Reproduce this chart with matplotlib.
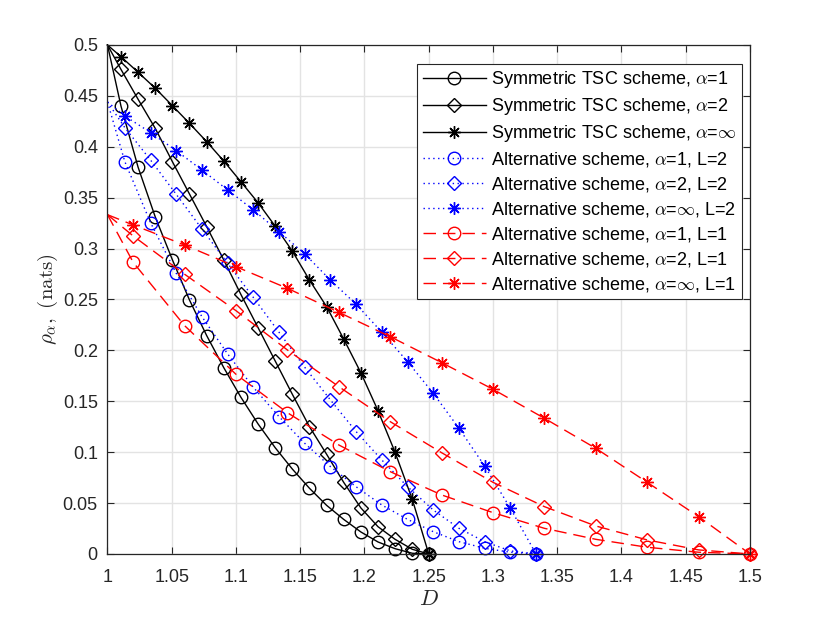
import matplotlib
matplotlib.use("Agg")
import matplotlib.pyplot as plt
from matplotlib.ticker import FixedLocator, FuncFormatter

plt.rcParams['font.family'] = ['Liberation Sans', 'DejaVu Sans']
plt.rcParams['mathtext.fontset'] = 'cm'

# ---- data ----
D_sym = [1.0, 1.0105, 1.0238, 1.0372, 1.0505, 1.0638, 1.0772, 1.0905, 1.1038, 1.1172,
         1.1305, 1.1438, 1.1572, 1.1705, 1.1838, 1.1972, 1.2105, 1.2238, 1.2372, 1.25]
rho_sym_a1 = [0.5, 0.440, 0.380, 0.331, 0.289, 0.2495, 0.2145, 0.183, 0.154, 0.1277,
              0.1044, 0.0835, 0.0645, 0.0478, 0.034, 0.0216, 0.0118, 0.0052, 0.0007, 0.0]
rho_sym_a2 = [0.5, 0.476, 0.4467, 0.418, 0.3854, 0.3536, 0.3215, 0.2888, 0.255, 0.2223,
              0.1896, 0.157, 0.125, 0.098, 0.0704, 0.0452, 0.0268, 0.0144, 0.0046, 0.0]
rho_sym_ainf = [0.5, 0.4885, 0.4732, 0.4575, 0.4404, 0.423, 0.405, 0.386, 0.3657, 0.345,
                0.322, 0.2976, 0.269, 0.243, 0.2112, 0.178, 0.1408, 0.0999, 0.0537, 0.0]

D_L2 = [1.0, 1.0135, 1.0335, 1.0535, 1.0735, 1.0935, 1.1135, 1.1335, 1.1535, 1.1735,
        1.1935, 1.2135, 1.2335, 1.2535, 1.2735, 1.2935, 1.3135, 1.3335]
rho_L2_a1 = [0.444, 0.3854, 0.3255, 0.2757, 0.2331, 0.1965, 0.1637, 0.1349, 0.1087, 0.0858,
             0.066, 0.0481, 0.034, 0.0219, 0.0121, 0.0056, 0.0017, 0.0]
rho_L2_a2 = [0.444, 0.4188, 0.387, 0.3533, 0.3193, 0.2855, 0.252, 0.2178, 0.1834, 0.1513,
             0.1202, 0.0923, 0.0661, 0.0432, 0.0252, 0.0121, 0.003, 0.0]
rho_L2_ainf = [0.444, 0.4302, 0.414, 0.3962, 0.3772, 0.3576, 0.338, 0.3166, 0.2947, 0.269,
               0.2453, 0.2178, 0.1889, 0.1579, 0.1235, 0.0864, 0.0449, 0.0]

D_L1 = [1.0, 1.02, 1.06, 1.10, 1.14, 1.18, 1.22, 1.26, 1.30, 1.34, 1.38, 1.42, 1.46, 1.50]
rho_L1_a1 = [0.3333, 0.2865, 0.2243, 0.1765, 0.1388, 0.1071, 0.0809, 0.058, 0.0406, 0.0252,
             0.0144, 0.0066, 0.0017, 0.0]
rho_L1_a2 = [0.3333, 0.3124, 0.2748, 0.239, 0.2004, 0.1644, 0.13, 0.0995, 0.0704, 0.0465,
             0.0275, 0.0138, 0.004, 0.0]
rho_L1_ainf = [0.3333, 0.3232, 0.3035, 0.2822, 0.261, 0.2374, 0.2135, 0.188, 0.1618, 0.1333,
               0.1038, 0.0704, 0.0367, 0.0]

labels = [
    r'Symmetric TSC scheme, $\alpha$=1',
    r'Symmetric TSC scheme, $\alpha$=2',
    r'Symmetric TSC scheme, $\alpha$=$\infty$',
    r'Alternative scheme, $\alpha$=1, L=2',
    r'Alternative scheme, $\alpha$=2, L=2',
    r'Alternative scheme, $\alpha$=$\infty$, L=2',
    r'Alternative scheme, $\alpha$=1, L=1',
    r'Alternative scheme, $\alpha$=2, L=1',
    r'Alternative scheme, $\alpha$=$\infty$, L=1',
]

xticks = [1, 1.05, 1.1, 1.15, 1.2, 1.25, 1.3, 1.35, 1.4, 1.45, 1.5]
yticks = [0, 0.05, 0.1, 0.15, 0.2, 0.25, 0.3, 0.35, 0.4, 0.45, 0.5]

# ---- figure ----
fig = plt.figure(figsize=(8.3, 6.23), dpi=100)
ax = fig.add_axes([0.1295, 0.1108, 0.7741, 0.8170])

STAR = (8, 2, 0)
dark = '#262626'
blue = '#0000ff'
red = '#ff0000'
lw = 1.0
dashes = (9, 5)

series = [
    (D_sym, rho_sym_a1, 'k', '-', 'o', 9),
    (D_sym, rho_sym_a2, 'k', '-', 'D', 7),
    (D_sym, rho_sym_ainf, 'k', '-', STAR, 9),
    (D_L2, rho_L2_a1, blue, ':', 'o', 9),
    (D_L2, rho_L2_a2, blue, ':', 'D', 7),
    (D_L2, rho_L2_ainf, blue, ':', STAR, 9),
    (D_L1, rho_L1_a1, red, '--', 'o', 9),
    (D_L1, rho_L1_a2, red, '--', 'D', 7),
    (D_L1, rho_L1_ainf, red, '--', STAR, 9),
]

for (xs, ys, c, ls, m, ms), lab in zip(series, labels):
    kw = {}
    if ls == '--':
        kw['dashes'] = dashes
    elif ls == ':':
        kw['dashes'] = (1, 2.5)
    line, = ax.plot(xs, ys, color=c, linestyle=ls, linewidth=lw, marker=m, markersize=ms,
                    markerfacecolor='none', markeredgecolor=c, markeredgewidth=1.0,
                    markevery=slice(1, None), label=lab, **kw)
    line.set_clip_on(False)

ax.set_xlim(1, 1.5)
ax.set_ylim(0, 0.5)
ax.xaxis.set_major_locator(FixedLocator(xticks))
ax.yaxis.set_major_locator(FixedLocator(yticks))
fmt = FuncFormatter(lambda v, p: '%g' % round(v, 4))
ax.xaxis.set_major_formatter(fmt)
ax.yaxis.set_major_formatter(fmt)

ax.grid(True, color='#e3e3e3', linewidth=1.0)
ax.set_axisbelow(True)
ax.tick_params(direction='in', top=True, right=True, length=5, width=0.8,
               colors=dark, labelsize=13)
ax.tick_params(axis='x', pad=11)
ax.tick_params(axis='y', pad=7)
for s in ax.spines.values():
    s.set_color(dark)
    s.set_linewidth(0.9)

ax.set_xlabel(r'$D$', fontsize=16, color=dark, labelpad=2)
ax.set_ylabel(r'$\rho_{\alpha},\ (\mathrm{nats})$', fontsize=15, color=dark, labelpad=2)

leg = ax.legend(loc='upper right', bbox_to_anchor=(0.9875, 0.9627), borderaxespad=0,
                fontsize=13, handlelength=3.5, handletextpad=0.3, labelspacing=0.33,
                borderpad=0.3, fancybox=False, framealpha=1, edgecolor=dark)
leg.get_frame().set_linewidth(0.8)
leg.set_zorder(5)

fig.savefig('out.png', dpi=100)
